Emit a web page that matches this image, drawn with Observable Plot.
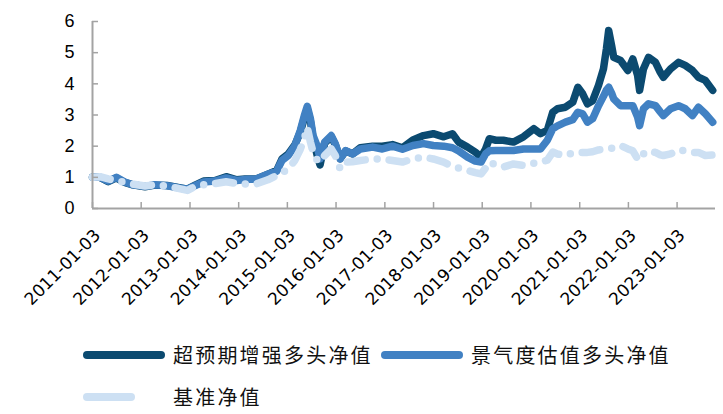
<!DOCTYPE html>
<html><head><meta charset="utf-8">
<script src="https://cdn.jsdelivr.net/npm/d3@7"></script>
<script src="https://cdn.jsdelivr.net/npm/@observablehq/plot@0.6"></script>
<style>
body{margin:0;background:#fff;width:723px;height:414px;overflow:hidden;font-family:"Noto Sans CJK SC",sans-serif}
#legend{position:relative;width:723px;height:89px}
.item{position:absolute;display:flex;align-items:center;font-size:20px;letter-spacing:2.2px;color:#111;white-space:nowrap}
.item svg{margin-right:6px}
</style></head><body>
<div id="chart"></div>
<div id="legend"></div>
<script>
const dates = ["2011-01-03","2011-03-01","2011-05-01","2011-07-01","2011-09-01","2011-11-01","2012-02-01","2012-04-15","2012-07-15","2012-10-15","2012-12-15","2013-02-15","2013-04-15","2013-07-10","2013-10-01","2013-12-20","2014-02-20","2014-05-15","2014-08-10","2014-10-15","2014-11-25","2015-01-10","2015-03-01","2015-04-10","2015-05-10","2015-06-01","2015-06-25","2015-07-15","2015-08-15","2015-09-05","2015-10-10","2015-11-28","2015-12-28","2016-02-03","2016-03-15","2016-05-05","2016-07-03","2016-10-03","2016-12-15","2017-03-01","2017-05-15","2017-08-01","2017-10-20","2018-01-01","2018-03-20","2018-05-25","2018-07-10","2018-09-15","2018-11-12","2018-12-25","2019-01-28","2019-02-25","2019-04-15","2019-06-10","2019-08-25","2019-11-08","2020-01-25","2020-03-15","2020-05-05","2020-06-15","2020-07-20","2020-09-18","2020-11-12","2020-12-20","2021-01-25","2021-03-02","2021-04-10","2021-05-24","2021-06-30","2021-07-22","2021-08-08","2021-08-30","2021-09-15","2021-11-05","2021-12-30","2022-02-05","2022-03-13","2022-03-28","2022-04-26","2022-06-03","2022-07-25","2022-08-30","2022-09-22","2022-11-15","2023-01-14","2023-03-05","2023-04-28","2023-06-12","2023-08-03","2023-09-27"];

const enhanced = [1.0,1.0,0.86,0.98,0.84,0.76,0.70,0.75,0.74,0.67,0.62,0.76,0.88,0.90,1.02,0.92,0.95,0.95,1.10,1.22,1.60,1.75,2.05,2.45,2.90,3.20,2.80,2.25,1.70,1.40,2.10,2.30,2.05,1.60,1.85,1.75,1.95,2.00,2.00,2.05,1.95,2.20,2.34,2.40,2.30,2.40,2.13,1.97,1.81,1.65,1.91,2.24,2.19,2.19,2.13,2.30,2.56,2.40,2.51,3.09,3.20,3.25,3.41,3.89,3.68,3.36,3.46,3.95,4.48,5.12,5.71,5.23,4.85,4.75,4.43,4.80,4.27,3.79,4.48,4.85,4.69,4.37,4.21,4.48,4.69,4.59,4.43,4.21,4.11,3.79];

const prosperity = [1.0,1.0,0.88,1.0,0.85,0.76,0.71,0.76,0.73,0.66,0.62,0.74,0.85,0.88,0.98,0.90,0.93,0.95,1.10,1.20,1.55,1.70,2.02,2.50,2.98,3.28,2.88,2.34,2.00,1.59,2.13,2.34,2.08,1.59,1.86,1.75,1.91,1.97,1.91,2.00,1.90,2.02,2.08,2.02,2.00,1.95,1.85,1.65,1.52,1.49,1.75,1.85,1.86,1.86,1.86,1.91,1.91,1.91,2.19,2.56,2.65,2.77,2.85,3.09,3.04,2.77,2.88,3.30,3.60,3.80,3.89,3.70,3.52,3.30,3.30,3.30,2.93,2.66,3.20,3.36,3.30,3.10,2.98,3.20,3.30,3.20,2.98,3.25,3.04,2.77];

const benchmark = [1.0,1.02,0.95,0.90,0.84,0.78,0.72,0.76,0.72,0.64,0.58,0.72,0.76,0.80,0.86,0.80,0.79,0.79,0.92,1.06,1.15,1.27,1.55,1.90,2.24,2.60,2.13,1.81,1.55,1.49,1.70,1.91,1.70,1.27,1.49,1.50,1.54,1.59,1.59,1.54,1.49,1.59,1.65,1.59,1.49,1.35,1.30,1.22,1.15,1.11,1.30,1.49,1.40,1.33,1.43,1.38,1.45,1.49,1.55,1.81,1.75,1.70,1.78,1.80,1.80,1.80,1.82,1.88,1.90,1.91,1.93,1.93,1.95,2.02,1.91,1.85,1.59,1.55,1.75,1.85,1.80,1.72,1.70,1.75,1.88,1.85,1.80,1.80,1.70,1.72];

const seriesNames = ["超预期增强多头净值", "景气度估值多头净值", "基准净值"];
const colors = ["#0b4a70", "#4181c3", "#cde0f3"];
const yTicks = [0, 1, 2, 3, 4, 5, 6];
const xTickLabels = ["2011-01-03","2012-01-03","2013-01-03","2014-01-03","2015-01-03","2016-01-03","2017-01-03","2018-01-03","2019-01-03","2020-01-03","2021-01-03","2022-01-03","2023-01-03"];
const xDomain = ["2011-01-03", "2023-10-18"];

const parse = d3.utcParse("%Y-%m-%d");
const fmt = d3.utcFormat("%Y-%m-%d");
const allSeries = [enhanced, prosperity, benchmark];
const rows = allSeries.map((vals, k) => dates.map((d, i) => ({date: parse(d), value: vals[i], series: seriesNames[k]})));
const xTicks = xTickLabels.map(parse);
const axisGray = "#a3a3a3";
const lineOpts = {x: "date", y: "value", strokeWidth: 7.5, strokeLinecap: "round", strokeLinejoin: "round"};

const chart = Plot.plot({
  width: 723,
  height: 325,
  marginLeft: 92,
  marginRight: 8,
  marginTop: 21,
  marginBottom: 117,
  style: {fontFamily: "'Liberation Sans', Arial, sans-serif", color: "#000", background: "transparent", overflow: "visible"},
  x: {type: "utc", domain: xDomain.map(parse)},
  y: {domain: [0, 6]},
  marks: [
    Plot.lineY(rows[0], {...lineOpts, stroke: colors[0]}),
    Plot.lineY(rows[1], {...lineOpts, stroke: colors[1]}),
    Plot.lineY(rows[2], {...lineOpts, stroke: colors[2], strokeDasharray: "18,12,0,12"}),
    Plot.ruleY([yTicks[0]], {stroke: axisGray, strokeWidth: 2}),
    Plot.ruleX([parse(xDomain[0])], {stroke: axisGray, strokeWidth: 2}),
    Plot.axisY(yTicks, {label: null, tickSize: 0, tickPadding: 18, fontSize: 18, tickFormat: d => String(d)}),
    Plot.axisY(yTicks, {label: null, tickSize: 6, dx: 6, stroke: axisGray, strokeWidth: 1.5, tickFormat: () => ""}),
    Plot.axisX(xTicks, {label: null, tickSize: 0, tickPadding: 24, dx: 5, tickRotate: -45, fontSize: 17, fontFamily: "'DejaVu Sans', sans-serif", letterSpacing: 0.3, tickFormat: fmt}),
    Plot.axisX(xTicks, {label: null, tickSize: 6, dy: -6, stroke: axisGray, strokeWidth: 1.5, tickFormat: () => ""})
  ]
});
document.getElementById("chart").appendChild(chart);

// legend
const legend = document.getElementById("legend");
function swatch(k) {
  const ns = "http://www.w3.org/2000/svg";
  const svg = document.createElementNS(ns, "svg");
  svg.setAttribute("width", 84); svg.setAttribute("height", 12);
  const l = document.createElementNS(ns, "line");
  l.setAttribute("x1", 4); l.setAttribute("x2", 78); l.setAttribute("y1", 6); l.setAttribute("y2", 6);
  l.setAttribute("stroke", colors[k]); l.setAttribute("stroke-width", 8); l.setAttribute("stroke-linecap", "round");
  if (k === 2) l.setAttribute("stroke-dasharray", "44,30,0,30");
  svg.appendChild(l);
  return svg;
}
const pos = [[83, 15], [381, 15], [83, 57]];
seriesNames.forEach((name, k) => {
  const div = document.createElement("div");
  div.className = "item";
  div.style.left = pos[k][0] + "px";
  div.style.top = pos[k][1] + "px";
  div.appendChild(swatch(k));
  const span = document.createElement("span");
  span.textContent = name;
  div.appendChild(span);
  legend.appendChild(div);
});
</script>
</body></html>
